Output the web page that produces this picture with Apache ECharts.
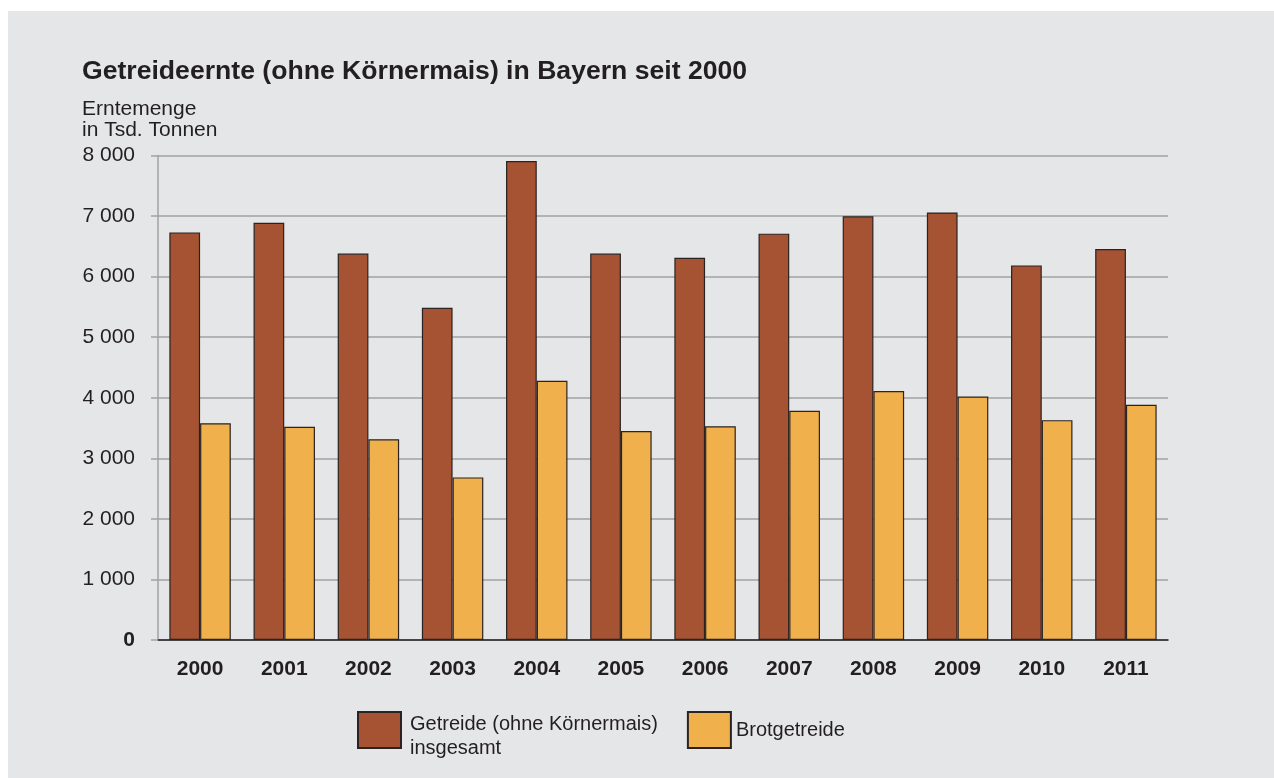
<!DOCTYPE html>
<html>
<head>
<meta charset="utf-8">
<script src="https://cdn.jsdelivr.net/npm/echarts@6/dist/echarts.min.js"></script>
<style>
  html, body { margin: 0; padding: 0; background: #ffffff; }
  #chart { position: absolute; left: 8px; top: 11px; width: 1266px; height: 767px; background: #e5e6e8; }
</style>
</head>
<body>
<div id="chart"></div>
<script>
const years = ['2000','2001','2002','2003','2004','2005','2006','2007','2008','2009','2010','2011'];
const getreideTotal = [6730, 6890, 6380, 5485, 7910, 6380, 6310, 6710, 6995, 7060, 6185, 6455];
const brotgetreide = [3580, 3520, 3315, 2685, 4280, 3450, 3530, 3785, 4110, 4020, 3630, 3885];
const yTickLabels = ['0', '1 000', '2 000', '3 000', '4 000', '5 000', '6 000', '7 000', '8 000'];
const seriesNames = ['Getreide (ohne Körnermais)\ninsgesamt', 'Brotgetreide'];
const titleText = 'Getreideernte (ohne Körnermais) in Bayern seit 2000';
const unitText = 'Erntemenge\nin Tsd. Tonnen';

const FONT = '"Liberation Sans", Arial, Helvetica, sans-serif';
const TXT = '#231f20';

const chart = echarts.init(document.getElementById('chart'), null, { renderer: 'canvas' });
chart.setOption({
  backgroundColor: '#e5e6e8',
  animation: false,
  textStyle: { fontFamily: FONT, color: TXT },
  title: [
    { text: titleText, left: 69, top: 42, textStyle: { fontFamily: FONT, fontSize: 26.6, fontWeight: 'bold', color: TXT } },
    { text: unitText, left: 69, top: 83, textStyle: { fontFamily: FONT, fontSize: 21, fontWeight: 'normal', color: TXT, lineHeight: 21 } }
  ],
  grid: { left: 150, right: 106, top: 144.5, bottom: 138, containLabel: false },
  legend: {
    left: 344, top: 684,
    itemWidth: 43, itemHeight: 36, itemGap: 29,
    icon: 'rect',
    data: seriesNames,
    formatter: function (name) {
      if (name === seriesNames[0]) {
        return '{s| }\n' + name.split('\n').map(function (s) { return '{a|' + s + '}'; }).join('\n');
      }
      return '{b|' + name + '}';
    },
    textStyle: {
      fontFamily: FONT, fontSize: 20, color: TXT, lineHeight: 24,
      rich: {
        s: { fontFamily: FONT, fontSize: 6, lineHeight: 12 },
        a: { fontFamily: FONT, fontSize: 20, color: TXT, lineHeight: 24, padding: [0, 0, 0, 4] },
        b: { fontFamily: FONT, fontSize: 20, color: TXT, lineHeight: 24 }
      }
    }
  },
  xAxis: {
    type: 'category',
    data: years,
    axisLine: { show: true, lineStyle: { color: '#231f20', width: 1.5 } },
    axisTick: { show: false },
    axisLabel: { margin: 19, fontFamily: FONT, fontSize: 21, fontWeight: 'bold', color: TXT }
  },
  yAxis: {
    type: 'value',
    min: 0, max: 8000, interval: 1000,
    axisLine: { show: true, lineStyle: { color: '#a1a2a4', width: 1.5 } },
    axisTick: { show: true, length: 7, lineStyle: { color: '#a1a2a4', width: 1.5 } },
    splitLine: { show: true, lineStyle: { color: '#a1a2a4', width: 1.5 } },
    axisLabel: {
      margin: 23, fontFamily: FONT, fontSize: 21, color: TXT,
      formatter: function (v) {
        const s = yTickLabels[Math.round(v / 1000)];
        return v === 0 ? '{z|' + s + '}' : s;
      },
      rich: { z: { fontFamily: FONT, fontSize: 21, fontWeight: 'bold', color: TXT } }
    }
  },
  series: [
    {
      name: seriesNames[0], type: 'bar', data: getreideTotal,
      barGap: '0%', barCategoryGap: '27%',
      itemStyle: { color: '#a55332', borderColor: '#2b2222', borderWidth: 1.2 }
    },
    {
      name: seriesNames[1], type: 'bar', data: brotgetreide,
      barGap: '0%', barCategoryGap: '27%',
      itemStyle: { color: '#f0b04b', borderColor: '#2b2222', borderWidth: 1.2 }
    }
  ]
});
</script>
</body>
</html>
